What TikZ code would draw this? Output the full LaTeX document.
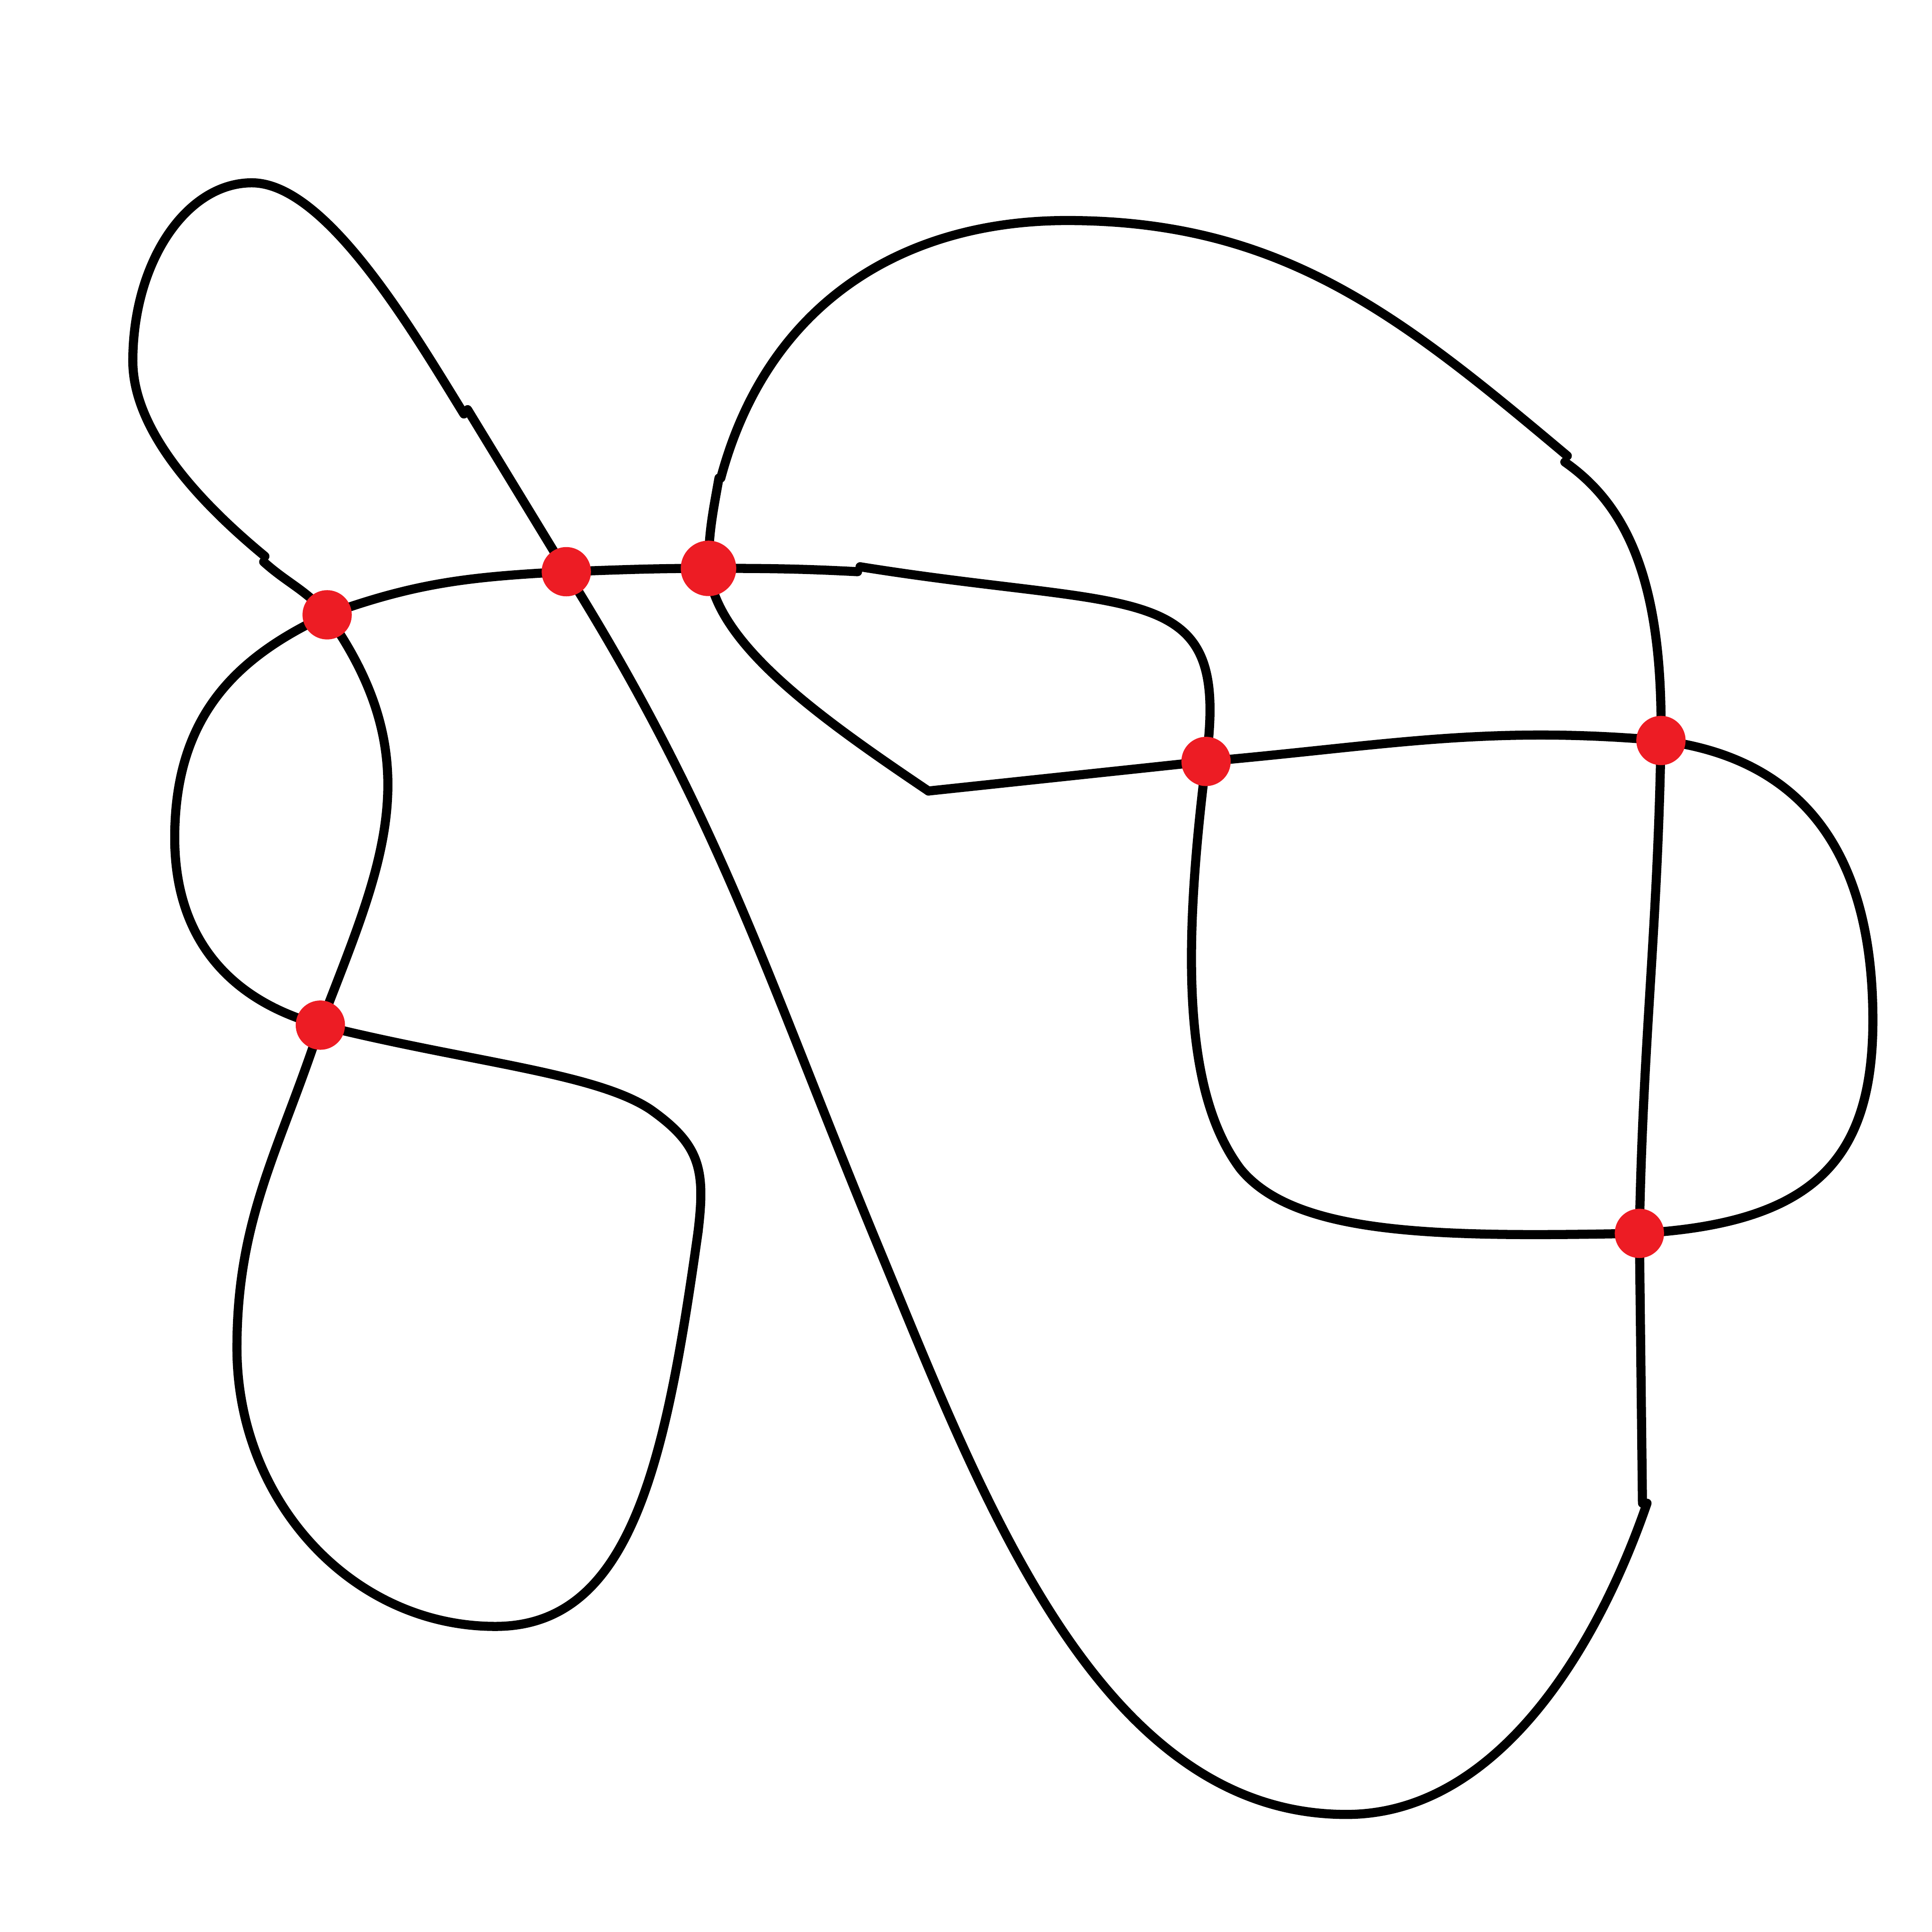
\documentclass[tikz,border=0pt]{standalone}
\usepackage{xcolor}
\usepackage{tikz}
\definecolor{dotred}{RGB}{237,28,36}

\begin{document}
\begin{tikzpicture}[
    strand/.style={line width=2.1pt,line cap=round,line join=round},
    every node/.style={circle,fill=dotred,inner sep=0pt,minimum size=0.4cm}
  ]
    \useasboundingbox (0,0) rectangle (15.68,15.68);

    \coordinate (j1) at (3.765,12.32);
    \coordinate (j1b) at (3.795,12.355);
    \coordinate (j2) at (2.15,11.165);
    \coordinate (j2b) at (2.14,11.12);
    \coordinate (j3) at (5.665,5.68);
    \coordinate (j4) at (6.96,11.04);
    \coordinate (j4b) at (6.98,11.08);
    \coordinate (j5) at (7.535,9.26);
    \coordinate (j6) at (5.835,11.80);
    \coordinate (j6b) at (5.85,11.80);
    \coordinate (j7) at (12.72,11.98);
    \coordinate (j7b) at (12.70,11.93);
    \coordinate (j8) at (13.33,3.48);
    \coordinate (j8b) at (13.367,3.48);

    \coordinate (pa) at (2.655,10.69);
    \coordinate (pb) at (4.596,11.04);
    \coordinate (pc) at (5.75,11.067);
    \coordinate (pd) at (9.788,9.50);
    \coordinate (pe) at (13.48,9.67);
    \coordinate (pf) at (13.305,5.67);
    \coordinate (pg) at (2.60,7.36);

    \coordinate (t1) at (2.044,14.196);
    \coordinate (l1) at (1.078,12.75);
    \coordinate (l2) at (1.923,4.74);
    \coordinate (b2) at (4.02,2.48);
    \coordinate (w3) at (5.28,6.675);
    \coordinate (l3) at (1.418,8.88);
    \coordinate (k2) at (10.067,6.193);
    \coordinate (r1) at (15.20,7.40);
    \coordinate (t2) at (8.66,13.89);
    \coordinate (b3) at (10.927,0.954);
    \coordinate (q)  at (7.14,5.534);

    \draw[strand] (j1) .. controls +(-0.42,0.68) and +(0.6,0) .. (t1)
      .. controls +(-0.533,0) and +(0,0.8) .. (l1)
      .. controls +(0,-0.6) and +(-0.463,0.382) .. (j2);
    \draw[strand] (j2b) to[out=-42,in=130] (pa)
      .. controls +(0.85,-1.2) and +(0.5,1.3) .. (pg)
      .. controls +(-0.328,-1.008) and +(0,1.06) .. (l2)
      .. controls +(0,-1.248) and +(-1.158,0) .. (b2)
      .. controls +(1.1,0) and +(-0.264,-1.881) .. (j3);
    \draw[strand] (j3) .. controls +(0.06,0.5) and +(0.41,-0.29) .. (w3)
      .. controls +(-0.45,0.3) and +(1.2,-0.3) .. (pg)
      .. controls +(-0.70,0.19) and +(0,-0.85) .. (l3)
      .. controls +(0,1.0) and +(-0.725,-0.338) .. (pa)
      to[out=20,in=-177] (pb) to[out=2,in=180] (pc) to[out=0,in=177] (j4);
    \draw[strand] (j4b) .. controls +(2.3,-0.37) and +(0.2,1.5) .. (pd)
      .. controls +(-0.2,-1.6) and +(-0.45,0.6) .. (k2)
      .. controls +(0.45,-0.55) and +(-1.6,-0.03) .. (pf)
      .. controls +(1.4,0.08) and +(0,-1.15) .. (r1)
      .. controls +(0,1.3) and +(1.2,-0.15) .. (pe)
      to[out=175,in=5] (pd) -- (j5);
    \draw[strand] (j5) .. controls +(-0.912,0.615) and +(0.05,-0.6) .. (pc)
      to[out=90,in=-100] (j6);
    \draw[strand] (j6b) .. controls +(0.388,1.449) and +(-1.3,0) .. (t2)
      to[out=0,in=140] (j7);
    \draw[strand] (j7b) .. controls +(0.5,-0.35) and +(0.02,1.3) .. (pe)
      to[out=-91,in=89] (pf) -- (j8);
    \draw[strand] (j8b) .. controls +(-0.40,-1.163) and +(1.23,0) .. (b3)
      .. controls +(-2.0,0) and +(0.842,-2.033) .. (q)
      .. controls +(-0.909,2.193) and +(1.258,-2.013) .. (pb) -- (j1b);

    \node (a) at (pa) {};
    \node (b) at (pb) {};
    \node[minimum size=0.45cm] (c) at (pc) {};
    \node (d) at (pd) {};
    \node (e) at (pe) {};
    \node (f) at (pf) {};
    \node (g) at (pg) {};
\end{tikzpicture}
\end{document}
